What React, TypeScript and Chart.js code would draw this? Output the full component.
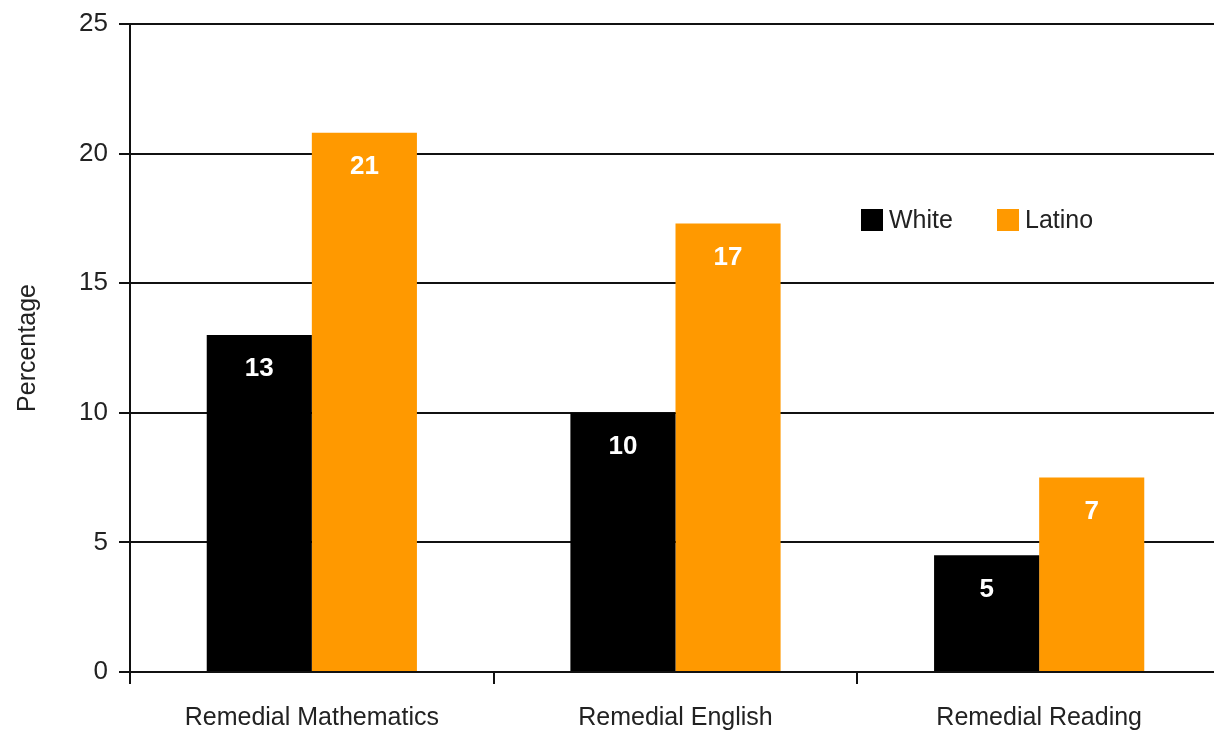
import React, { useEffect, useRef } from "react";
import { Chart, registerables } from "chart.js";

Chart.register(...registerables);

const categories = ["Remedial Mathematics", "Remedial English", "Remedial Reading"];
const seriesNames = ["White", "Latino"];
const whiteValues = [13.0, 10.0, 4.5];
const latinoValues = [20.8, 17.3, 7.5];
const whiteLabels = ["13", "10", "5"];
const latinoLabels = ["21", "17", "7"];
const seriesColors = ["#000000", "#FF9900"];
const yTicks = [0, 5, 10, 15, 20, 25];

const FONT = "'Liberation Sans', Arial, sans-serif";
const TEXT = "#222222";

const valueLabelPlugin = {
  id: "valueLabels",
  afterDatasetsDraw(chart: any) {
    const ctx = chart.ctx;
    const labelSets = [whiteLabels, latinoLabels];
    ctx.save();
    ctx.font = `bold 26px ${FONT}`;
    ctx.fillStyle = "#ffffff";
    ctx.textAlign = "center";
    ctx.textBaseline = "middle";
    chart.data.datasets.forEach((_: any, di: number) => {
      const meta = chart.getDatasetMeta(di);
      meta.data.forEach((bar: any, i: number) => {
        ctx.fillText(labelSets[di][i], bar.x, bar.y + 34);
      });
    });
    ctx.restore();
  },
};

const legendPlugin = {
  id: "insideLegend",
  afterDraw(chart: any) {
    const ctx = chart.ctx;
    const { left, top } = chart.chartArea;
    const startX = left + 731;
    const cy = top + 196;
    const box = 22;
    const gap = 136;
    ctx.save();
    ctx.font = `25px ${FONT}`;
    ctx.textBaseline = "middle";
    ctx.textAlign = "left";
    seriesNames.forEach((name, i) => {
      const x = startX + i * gap;
      ctx.fillStyle = seriesColors[i];
      ctx.fillRect(x, cy - box / 2, box, box);
      ctx.fillStyle = TEXT;
      ctx.fillText(name, x + box + 6, cy + 1);
    });
    ctx.restore();
  },
};

export default function App() {
  const canvasRef = useRef<HTMLCanvasElement | null>(null);

  useEffect(() => {
    if (!canvasRef.current) return;
    const chart = new Chart(canvasRef.current, {
      type: "bar",
      data: {
        labels: categories,
        datasets: [
          { label: seriesNames[0], data: whiteValues, backgroundColor: seriesColors[0] },
          { label: seriesNames[1], data: latinoValues, backgroundColor: seriesColors[1] },
        ],
      },
      options: {
        responsive: false,
        animation: false,
        devicePixelRatio: 1,
        layout: { padding: { top: 24, right: 9, left: 0, bottom: 0 } },
        datasets: { bar: { categoryPercentage: 0.578, barPercentage: 1.0 } },
        plugins: {
          legend: { display: false },
          tooltip: { enabled: false },
        },
        scales: {
          x: {
            offset: true,
            grid: {
              offset: true,
              drawOnChartArea: false,
              drawTicks: true,
              tickLength: 12,
              color: "#111111",
              lineWidth: 2,
            },
            border: { display: true, color: "#111111", width: 2 },
            ticks: {
              color: TEXT,
              font: { family: FONT, size: 25 },
              padding: 19,
              maxRotation: 0,
            },
            afterFit(scale: any) {
              scale.height = 64;
              scale.paddingLeft = 0;
              scale.paddingRight = 0;
            },
          },
          y: {
            min: 0,
            max: 25,
            afterBuildTicks(scale: any) {
              scale.ticks = yTicks.map((v) => ({ value: v }));
            },
            grid: {
              color: "#111111",
              lineWidth: 2,
              drawTicks: true,
              tickLength: 11,
            },
            border: { display: true, color: "#111111", width: 2 },
            ticks: {
              color: TEXT,
              font: { family: FONT, size: 26 },
              padding: 11,
            },
            title: {
              display: true,
              text: "Percentage",
              color: TEXT,
              font: { family: FONT, size: 25 },
              padding: { top: 13, bottom: 0 },
            },
            afterFit(scale: any) {
              scale.width = 130;
              scale.paddingTop = 0;
              scale.paddingBottom = 0;
            },
          },
        },
      },
      plugins: [valueLabelPlugin, legendPlugin],
    });
    return () => chart.destroy();
  }, []);

  return (
    <div
      style={{
        position: "fixed",
        left: 0,
        top: 0,
        width: 1214,
        height: 736,
        overflow: "hidden",
        background: "#ffffff",
      }}
    >
      <canvas ref={canvasRef} width={1230} height={736} style={{ display: "block" }} />
    </div>
  );
}
